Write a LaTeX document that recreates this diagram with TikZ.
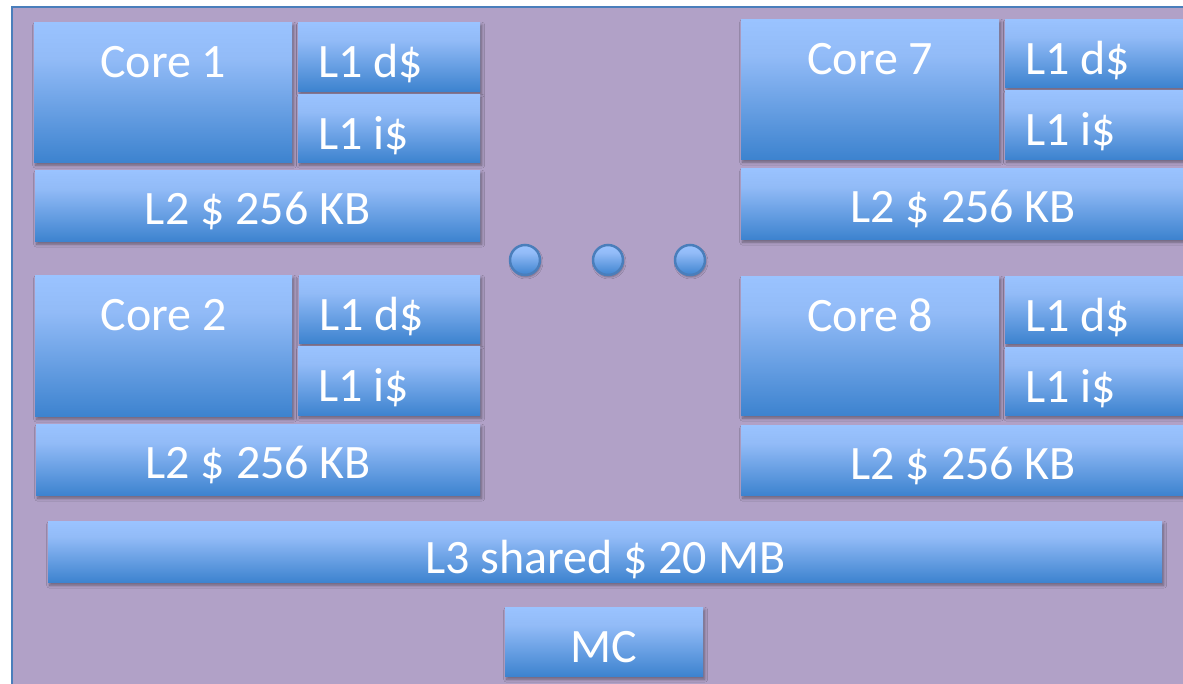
\documentclass[tikz,border=0pt]{standalone}
\usepackage{fontspec}
\setmainfont{Carlito}
\usetikzlibrary{shadows.blur}

\definecolor{panel}{HTML}{B1A1C7}
\definecolor{edge}{HTML}{4A7EBB}
\definecolor{boxtop}{HTML}{9AC3FF}
\definecolor{boxmid}{HTML}{92BBF7}
\definecolor{boxbot}{HTML}{3D83CF}

% light blue at the top, darkening towards the bottom
\pgfdeclareverticalshading{cache}{100bp}{color(0bp)=(boxbot); color(25bp)=(boxbot); color(62bp)=(boxmid); color(75bp)=(boxtop); color(100bp)=(boxtop)}

\tikzset{
  blk/.style={rectangle, draw=none, inner sep=0pt, anchor=north west, shading=cache,
    blur shadow={shadow xshift=1.5pt, shadow yshift=-3pt, shadow blur radius=3pt, shadow opacity=40}},
  lbl/.style={text=white, font=\fontsize{48}{56}\selectfont, inner sep=0pt},
  knob/.style={circle, minimum size=30pt, inner sep=0pt, shading=cache, draw=edge, line width=2.5pt,
    blur shadow={shadow xshift=1pt, shadow yshift=-2pt, shadow blur radius=2pt, shadow opacity=35}}
}

% box: name, x, y, width, height
\newcommand\cachebox[5]{\node[blk, minimum width=#4pt, minimum height=#5pt] (#1) at (#2,#3) {};}
\newcommand\midtext[3][55]{\node[lbl, anchor=base] at ([yshift=-#1pt]#2.north) {#3};}
\newcommand\lefttext[2]{\node[lbl, anchor=base west] at ([xshift=20pt,yshift=-55pt]#1.north west) {#2};}

\begin{document}
\begin{tikzpicture}[x=1pt, y=-1pt]
\clip (0,0) rectangle (1183,683);
\fill[white] (0,0) rectangle (1183,683);

% die outline
\draw[draw=edge, line width=2.5pt, fill=panel] (12,7) rectangle (1220,720);

% left column, upper core
\cachebox{c1}{34}{22}{258}{140}
\cachebox{c1d}{298}{22}{182}{69}
\cachebox{c1i}{298}{94}{182}{68}
\cachebox{c1l}{35}{170}{445}{71}
\midtext{c1}{Core 1}
\lefttext{c1d}{L1 d\$}
\lefttext{c1i}{L1 i\$}
\midtext[54]{c1l}{L2 \$ 256 KB}

% left column, lower core
\cachebox{c2}{35}{275}{257}{141}
\cachebox{c2d}{299}{275}{181}{68}
\cachebox{c2i}{298}{346}{182}{69}
\cachebox{c2l}{36}{424}{444}{71}
\midtext{c2}{Core 2}
\lefttext{c2d}{L1 d\$}
\lefttext{c2i}{L1 i\$}
\midtext[54]{c2l}{L2 \$ 256 KB}

% right column, upper core
\cachebox{c7}{741}{19}{258}{140}
\cachebox{c7d}{1005}{19}{182}{68}
\cachebox{c7i}{1005}{90}{182}{69}
\cachebox{c7l}{741}{168}{444}{71}
\midtext{c7}{Core 7}
\lefttext{c7d}{L1 d\$}
\lefttext{c7i}{L1 i\$}
\midtext[54]{c7l}{L2 \$ 256 KB}

% right column, lower core
\cachebox{c8}{741}{276}{258}{139}
\cachebox{c8d}{1005}{276}{182}{67}
\cachebox{c8i}{1005}{347}{182}{68}
\cachebox{c8l}{741}{425}{444}{70}
\midtext{c8}{Core 8}
\lefttext{c8d}{L1 d\$}
\lefttext{c8i}{L1 i\$}
\midtext[54]{c8l}{L2 \$ 256 KB}

% ellipsis between the columns
\node[knob] (k1) at (525,260) {};
\node[knob] (k2) at (608,260) {};
\node[knob] (k3) at (690,260) {};

% shared last-level cache and memory controller
\cachebox{l3}{48}{521}{1114}{61}
\midtext[52]{l3}{L3 shared \$ 20 MB}
\cachebox{mc}{505}{607}{198}{69}
\midtext{mc}{MC}
\end{tikzpicture}
\end{document}
